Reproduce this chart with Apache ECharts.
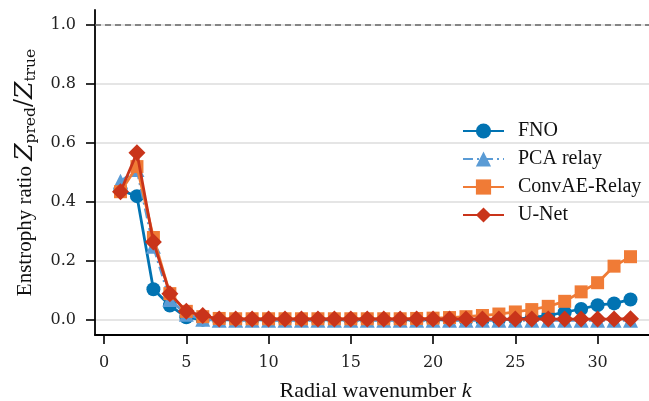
<!DOCTYPE html>
<html>
<head>
<meta charset="utf-8">
<script src="https://cdn.jsdelivr.net/npm/echarts@6/dist/echarts.min.js"></script>
<style>
  html, body { margin: 0; padding: 0; background: #fff; }
  #chart { width: 649px; height: 401px; }
</style>
</head>
<body>
<div id="chart"></div>
<script>
// radial wavenumbers 1..32
const kValues = [1, 2, 3, 4, 5, 6, 7, 8, 9, 10, 11, 12, 13, 14, 15, 16,
  17, 18, 19, 20, 21, 22, 23, 24, 25, 26, 27, 28, 29, 30, 31, 32]

const fno = [0.44, 0.42, 0.105, 0.05, 0.01, 0.002, 0.001, 0.001, 0.001, 0.001, 0.001, 0.001, 0.001, 0.001, 0.001, 0.001,
  0.001, 0.001, 0.001, 0.001, 0.001, 0.001, 0.001, 0.002, 0.004, 0.009, 0.016, 0.027, 0.038, 0.051, 0.057, 0.07]
const pcaRelay = [0.47, 0.51, 0.25, 0.07, 0.02, 0.003, 0.0, 0.0, 0.0, 0.0, 0.0, 0.0, 0.0, 0.0, 0.0, 0.0,
  0.0, 0.0, 0.0, 0.0, 0.0, 0.0, 0.0, 0.0, 0.0, 0.0, 0.0, 0.0, 0.0, 0.0, 0.0, 0.0]
const convAE = [0.435, 0.52, 0.28, 0.09, 0.03, 0.012, 0.006, 0.005, 0.005, 0.005, 0.005, 0.005, 0.005, 0.005, 0.005, 0.005,
  0.005, 0.005, 0.006, 0.007, 0.009, 0.012, 0.016, 0.021, 0.028, 0.036, 0.047, 0.064, 0.096, 0.127, 0.183, 0.215]
const unet = [0.435, 0.567, 0.265, 0.09, 0.03, 0.016, 0.004, 0.004, 0.004, 0.004, 0.004, 0.004, 0.004, 0.004, 0.004, 0.004,
  0.004, 0.004, 0.004, 0.004, 0.004, 0.004, 0.004, 0.004, 0.004, 0.004, 0.004, 0.004, 0.004, 0.004, 0.004, 0.005]

const xTicks = [0, 5, 10, 15, 20, 25, 30]
const yTicks = [0.0, 0.2, 0.4, 0.6, 0.8, 1.0]
const referenceLine = 1.0

const font = 'Liberation Serif'
const tickFont = 'DejaVu Serif'
const pairs = (vals) => kValues.map((k, i) => [k, vals[i]])

const chart = echarts.init(document.getElementById('chart'), null, { renderer: 'canvas' })

const lineSeries = (name, vals, color, symbol, size, lineType, z) => ({
  name,
  type: 'line',
  data: pairs(vals),
  symbol,
  symbolSize: size,
  showSymbol: true,
  z,
  itemStyle: { color, opacity: 1 },
  lineStyle: { color, width: 2.8, type: lineType },
  emphasis: { disabled: true },
  animation: false
})

chart.setOption({
  backgroundColor: '#fff',
  textStyle: { fontFamily: font },
  grid: { left: 95, top: 10, width: 561, height: 325, containLabel: false, outerBoundsMode: 'none' },
  legend: {
    left: 462,
    top: 121,
    padding: 0,
    orient: 'vertical',
    itemWidth: 41,
    itemHeight: 19,
    itemGap: 8,
    textStyle: { fontFamily: font, fontSize: 20, color: '#111', padding: [0, 0, 0, 9] },
    data: ['FNO', 'PCA relay', 'ConvAE-Relay', 'U-Net']
  },
  xAxis: {
    type: 'value',
    min: -0.55,
    max: 33.55,
    name: '{n|Radial wavenumber }{i|k}',
    nameLocation: 'middle',
    nameGap: 45,
    nameTextStyle: {
      rich: {
        n: { fontFamily: font, fontSize: 22, color: '#111' },
        i: { fontFamily: font, fontSize: 22, fontStyle: 'italic', color: '#111' }
      }
    },
    axisLine: { show: true, onZero: false, lineStyle: { color: '#000', width: 1.8 } },
    axisTick: { show: true, length: 9, lineStyle: { color: '#000', width: 1.6 }, customValues: xTicks },
    axisLabel: { customValues: xTicks, fontFamily: tickFont, fontSize: 16, color: '#222', margin: 20 },
    splitLine: { show: false }
  },
  yAxis: {
    type: 'value',
    min: -0.05,
    max: 1.05,
    name: '{n|Enstrophy ratio }{i|Z}{s|pred}{m|/}{i|Z}{s|true}',
    nameLocation: 'middle',
    nameGap: 56,
    nameTextStyle: {
      rich: {
        n: { fontFamily: font, fontSize: 21, color: '#111', lineHeight: 28 },
        m: { fontFamily: tickFont, fontSize: 24, color: '#111', lineHeight: 28 },
        i: { fontFamily: tickFont, fontSize: 25, fontStyle: 'italic', color: '#111', lineHeight: 28 },
        s: { fontFamily: tickFont, fontSize: 15.5, color: '#111', verticalAlign: 'bottom', lineHeight: 15 }
      }
    },
    axisLine: { show: true, onZero: false, lineStyle: { color: '#000', width: 1.8 } },
    axisTick: { show: true, length: 9, lineStyle: { color: '#000', width: 1.6 }, customValues: yTicks },
    axisLabel: {
      customValues: yTicks,
      fontFamily: tickFont,
      fontSize: 16,
      color: '#222',
      margin: 19,
      formatter: (v) => v.toFixed(1)
    },
    splitLine: { show: true, lineStyle: { color: '#e5e5e5', width: 1.8 } }
  },
  series: [
    Object.assign(lineSeries('FNO', fno, '#0173B2', 'circle', 14, 'solid', 2), {
      markLine: {
        silent: true,
        symbol: 'none',
        label: { show: false },
        lineStyle: { color: '#666', type: [6, 4], width: 1.6 },
        data: [{ yAxis: referenceLine }]
      }
    }),
    lineSeries('PCA relay', pcaRelay, '#5A9BD5', 'triangle', 15, [10, 4, 2, 4], 3),
    lineSeries('ConvAE-Relay', convAE, '#F07B36', 'rect', 13, 'solid', 4),
    lineSeries('U-Net', unet, '#C9341A', 'diamond', 17, 'solid', 5)
  ]
})

window.addEventListener('resize', () => chart.resize())
</script>
</body>
</html>
